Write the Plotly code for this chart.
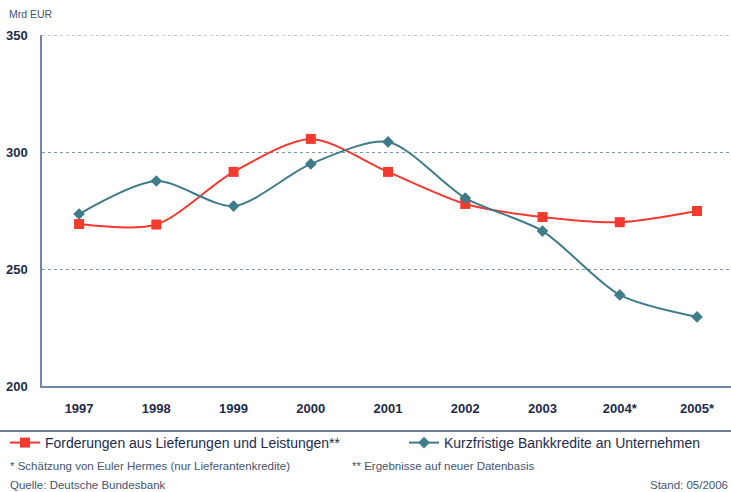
import plotly.graph_objects as go

years = ["1997", "1998", "1999", "2000", "2001", "2002", "2003", "2004*", "2005*"]
forderungen = [269.2, 269.0, 291.5, 305.6, 291.5, 277.8, 272.2, 270.0, 274.8]
bankkredite = [273.5, 287.6, 276.9, 294.9, 304.3, 280.3, 266.2, 238.9, 229.5]
yticks = [200, 250, 300, 350]

RED = "#f23a2e"
TEAL = "#3f7b88"
NAVY = "#1e2b4a"
GRID = "#7f95b5"

W, H = 731, 492
L, R, T, B = 42, 0, 35, 106
PW, PH = W - L - R, H - T - B

def px(x):
    return (x - L) / PW

def py(y):
    return (H - B - y) / PH

fig = go.Figure()
fig.add_trace(go.Scatter(
    x=list(range(len(years))), y=forderungen, mode="lines+markers",
    name="Forderungen aus Lieferungen und Leistungen**",
    line=dict(color=RED, width=2, shape="spline", smoothing=0.8),
    marker=dict(symbol="square", size=10, color=RED),
    legend="legend"))
fig.add_trace(go.Scatter(
    x=list(range(len(years))), y=bankkredite, mode="lines+markers",
    name="Kurzfristige Bankkredite an Unternehmen",
    line=dict(color=TEAL, width=2, shape="spline", smoothing=0.8),
    marker=dict(symbol="diamond", size=9, color=TEAL),
    legend="legend2"))

legfont = dict(family="Liberation Sans, Arial", size=14, color=NAVY)
fig.update_layout(
    width=W, height=H,
    margin=dict(l=L, r=R, t=T, b=B),
    paper_bgcolor="white", plot_bgcolor="white",
    font=dict(family="Liberation Sans, Arial", color=NAVY),
    xaxis=dict(
        tickmode="array", tickvals=list(range(len(years))), ticktext=years,
        range=[-0.48, 8.44], showgrid=False, zeroline=False,
        showline=True, linecolor="#6f86a6", linewidth=1.5,
        ticks="", ticklabelstandoff=10,
        tickfont=dict(size=13, color=NAVY, weight="bold"),
    ),
    yaxis=dict(
        range=[200, 350], tickvals=yticks, showgrid=True,
        gridcolor=GRID, griddash="dot", gridwidth=1, zeroline=False,
        showline=True, linecolor="#6f86a6", linewidth=1.5,
        ticks="", ticklabelstandoff=10,
        tickfont=dict(size=13, color=NAVY, weight="bold"),
    ),
    legend=dict(xref="container", yref="container", x=5 / W, y=1 - 443 / H,
                xanchor="left", yanchor="middle", orientation="h",
                font=legfont, bgcolor="rgba(0,0,0,0)"),
    legend2=dict(xref="container", yref="container", x=404 / W, y=1 - 443 / H,
                 xanchor="left", yanchor="middle", orientation="h",
                 font=legfont, bgcolor="rgba(0,0,0,0)"),
    showlegend=True,
)

# top gridline at 350 (edge of range)
fig.add_shape(type="line", xref="paper", yref="y", x0=0, x1=1, y0=350, y1=350,
              line=dict(color=GRID, width=1, dash="dot"))

fig.add_shape(type="line", xref="paper", yref="paper",
              x0=px(0), x1=px(W), y0=py(431), y1=py(431),
              line=dict(color="#3d4f6e", width=1.5))

def note(text, x, y, size=11.5, anchor="left"):
    fig.add_annotation(text=text, xref="paper", yref="paper", x=px(x), y=py(y),
                       xanchor=anchor, yanchor="middle", showarrow=False,
                       font=dict(size=size, color="#44546e", family="Liberation Sans, Arial"))

note("Mrd EUR", 7, 14, size=10.5)
note("* Schätzung von Euler Hermes (nur Lieferantenkredite)", 8, 466)
note("** Ergebnisse auf neuer Datenbasis", 350, 466)
note("Quelle: Deutsche Bundesbank", 8, 485)
note("Stand: 05/2006", 730, 485, anchor="right")

fig.write_html("out.html", config={"displayModeBar": False},
               post_script="document.body.style.margin='0';")
